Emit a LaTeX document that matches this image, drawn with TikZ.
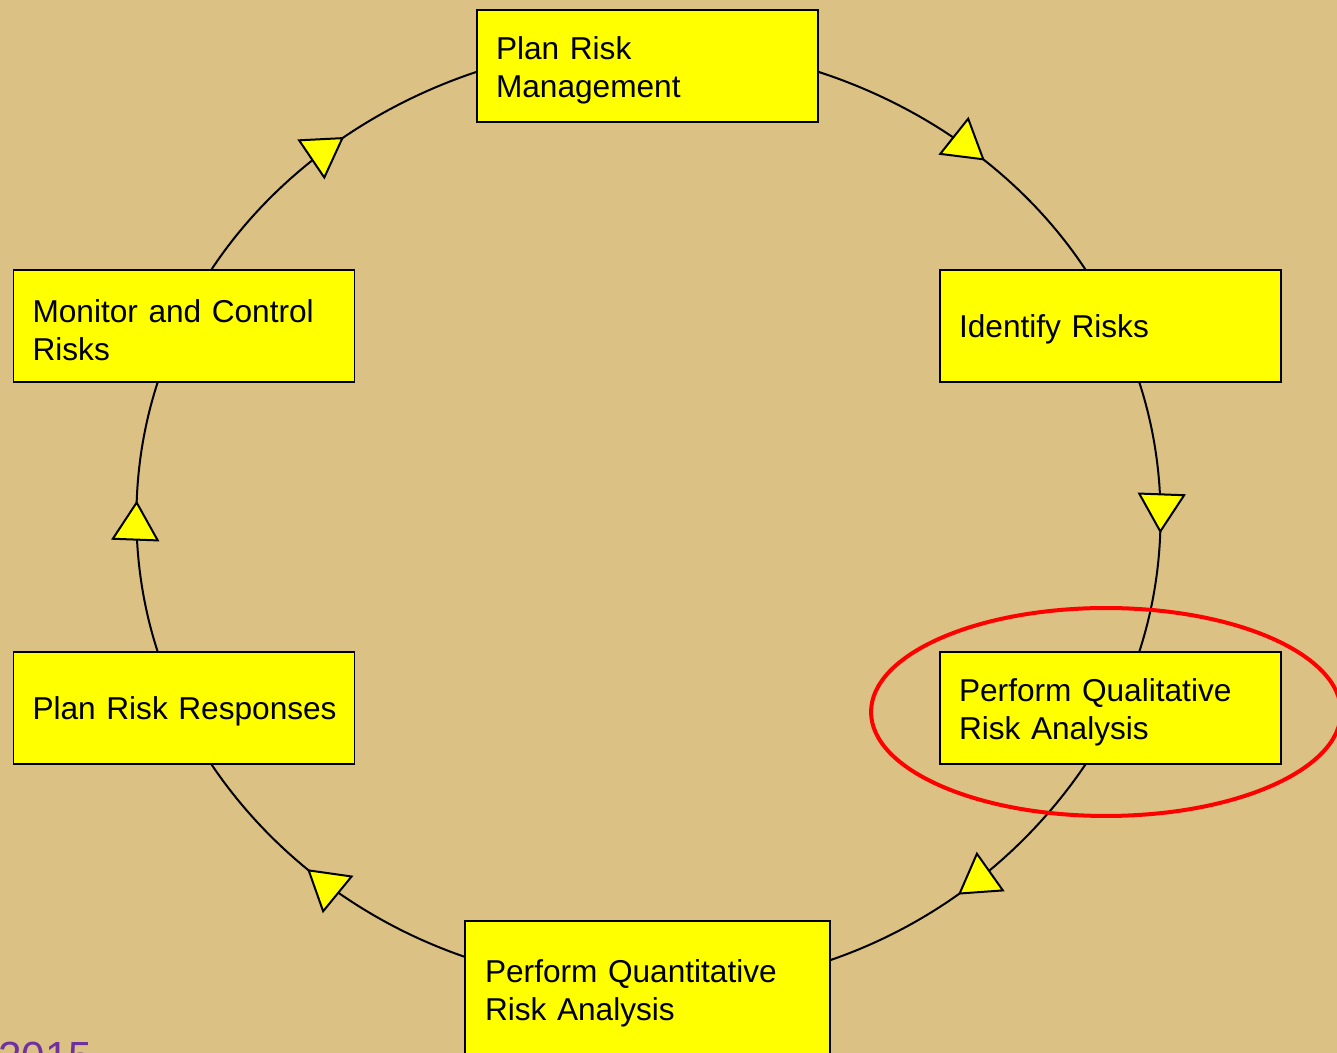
\documentclass[tikz,border=0pt]{standalone}
\usepackage{fontspec}
\setmainfont{Liberation Sans}
\usetikzlibrary{arrows.meta,decorations.markings}
\definecolor{sand}{RGB}{219,193,132}
\definecolor{boxyellow}{RGB}{255,255,0}
\definecolor{yearpurple}{RGB}{112,48,160}

\tikzset{
  process/.style={rectangle, draw=black, line width=0.03cm, fill=boxyellow,
    minimum height=2.24cm, text width=6.06cm, inner xsep=0.38cm, align=left,
    font=\fontsize{18}{21.6}\selectfont,
    execute at end node={\par\vspace{-0.16cm}}},
  flow/.style={line width=0.04cm, looseness=0.87,
    decoration={markings, mark=at position 0.56 with
      {\arrow{Triangle[length=0.8cm, width=0.96cm, fill=boxyellow]}}},
    postaction={decorate}},
}

\begin{document}
\begin{tikzpicture}[x=0.02cm, y=0.02cm]
  \fill[sand] (0,0) rectangle (1337,1053);
  \useasboundingbox (0,0) rectangle (1337,1053);

  \node[process] (pm)  at (647.5, 987) {Plan Risk\\Management};
  \node[process] (ir)  at (1110.5, 727) {Identify Risks};
  \node[process] (qa)  at (1110.5, 345) {Perform Qualitative\\Risk Analysis};
  \node[process, minimum height=2.72cm, text width=6.5cm, inner xsep=0.4cm]
    (qn) at (647.5, 64) {Perform Quantitative\\Risk Analysis};
  \node[process] (prr) at (184, 345) {\mbox{Plan Risk Responses}};
  \node[process] (mon) at (184, 727) {Monitor and Control\\Risks};

  \draw[flow] (pm.-2)      to[out=-18, in=123.5] (ir.114.5);
  \draw[flow] (ir.-63)     to[out=-72, in=72]    (qa.63);
  \draw[flow] (qa.-114.5)  to[out=-124, in=19]   (qn.9.9);
  \draw[flow] (qn.170.1)   to[out=161, in=-56]   (prr.-64.3);
  \draw[flow] (prr.115.7)  to[out=108, in=-108]  (mon.-115.7);
  \draw[flow] (mon.64.3)   to[out=56.5, in=-161.6] (pm.-178);

  \draw[red, line width=0.08cm] (1106, 341) ellipse [x radius=4.7cm, y radius=2.08cm];

  \node[anchor=base west, inner sep=0, text=yearpurple,
    font=\fontsize{24}{28}\selectfont] (year) at (-2,-19) {2015};
\end{tikzpicture}
\end{document}
